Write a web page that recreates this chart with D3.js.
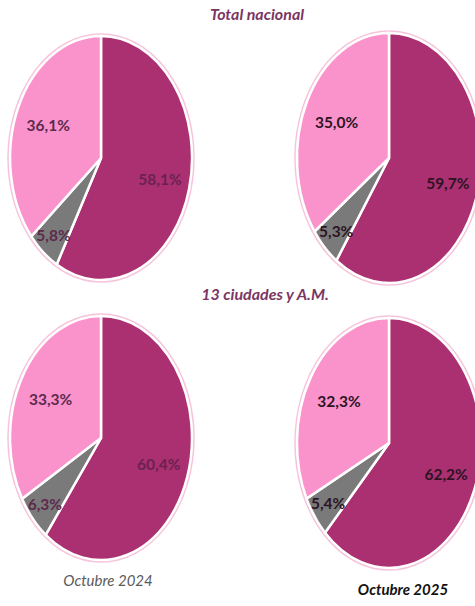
<!DOCTYPE html>
<html>
<head>
<meta charset="utf-8">
<script src="https://cdn.jsdelivr.net/npm/d3@7"></script>
<style>
  body { margin: 0; background: #fff; }
  text { font-family: Lato, "Open Sans", sans-serif; }
</style>
</head>
<body>
<svg id="chart"></svg>
<script>
// Pie pairs: Total nacional / 13 ciudades y A.M., Oct 2024 vs Oct 2025

const categories = ["Ocupados", "Desocupados", "Inactivos"];
const periods = ["Octubre 2024", "Octubre 2025"];
const groups = ["Total nacional", "13 ciudades y A.M."];

// values per group, per period, in the order of categories
const totalNacional2024 = [58.1, 5.8, 36.1];
const totalNacional2025 = [59.7, 5.3, 35.0];
const ciudades2024 = [60.4, 6.3, 33.3];
const ciudades2025 = [62.2, 5.4, 32.3];

const seriesValues = [
  [totalNacional2024, totalNacional2025],
  [ciudades2024, ciudades2025]
];

function drawChart(){
  let width = 475;
  let height = 606;
  let svg = d3.select('#chart')
    .attr("width", width)
    .attr("height", height);

  let colors = d3.scaleOrdinal()
    .domain(categories)
    .range(["#ab3071", "#7a7a7a", "#fa93cc"]);

  // how far out each label sits, as a share of the radius
  let labelRadius = d3.scaleOrdinal()
    .domain(categories)
    .range([0.67, 0.82, 0.64]);

  let colX = d3.scalePoint().domain(periods).range([101, 389]);
  let rowY = d3.scalePoint().domain(groups).range([158, 438]);
  let radiusX = [91, 92];
  let radiusY = [122, 125];

  let pie = d3.pie().sort(null).value(d => d.value);
  let arc = d3.arc().innerRadius(0).outerRadius(1);

  groups.forEach(function(group, gi){
    periods.forEach(function(period, pi){
      let data = categories.map((c, i) => ({cat: c, value: seriesValues[gi][pi][i]}));
      let arcs = pie(data);
      let rx = radiusX[pi];
      let ry = radiusY[pi];
      let cx = colX(period);
      let cy = rowY(group) + (gi == 1 && pi == 1 ? 5 : 0);

      let g = svg.append('g')
        .attr("transform", `translate(${cx},${cy})`);

      // soft halo around the pie
      g.append('ellipse')
        .attr("rx", rx + 1.5)
        .attr("ry", ry + 1.5)
        .attr("fill", "none")
        .attr("stroke", "#f5c4dc")
        .attr("stroke-width", 2.5);

      g.append('g')
        .attr("transform", `scale(${rx},${ry})`)
        .selectAll('path')
        .data(arcs)
        .join('path')
        .attr("d", arc)
        .attr("fill", d => colors(d.data.cat))
        .attr("stroke", "#fff")
        .attr("stroke-width", 2.5)
        .attr("vector-effect", "non-scaling-stroke");

      // labels: dim on the 2024 pies, dark on the 2025 ones
      g.selectAll('text')
        .data(arcs)
        .join('text')
        .attr("x", d => {
          let a = (d.startAngle + d.endAngle) / 2;
          return Math.sin(a) * rx * labelRadius(d.data.cat);
        })
        .attr("y", d => {
          let a = (d.startAngle + d.endAngle) / 2;
          return -Math.cos(a) * ry * labelRadius(d.data.cat);
        })
        .attr("text-anchor", "middle")
        .attr("dominant-baseline", "central")
        .attr("font-size", 15.5)
        .attr("font-weight", "bold")
        .attr("fill", d => {
          if (pi == 0) return d.data.cat == "Ocupados" ? "#6a2153" : "#5c2a4c";
          return "#2c1424";
        })
        .text(d => d3.format(".1f")(d.data.value).replace(".", ",") + "%");
    });
  });

  // group titles
  svg.selectAll('.groupTitle')
    .data(groups)
    .join('text')
    .attr("class", "groupTitle")
    .attr("x", (d, i) => [257, 265][i])
    .attr("y", d => rowY(d) - 145)
    .attr("text-anchor", "middle")
    .attr("dominant-baseline", "central")
    .attr("font-size", 16)
    .attr("font-weight", "bold")
    .attr("font-style", "italic")
    .attr("fill", "#7b3662")
    .text(d => d);

  // period labels at the bottom
  svg.selectAll('.periodLabel')
    .data(periods)
    .join('text')
    .attr("class", "periodLabel")
    .attr("x", (d, i) => colX(d) + [7, 14][i])
    .attr("y", (d, i) => [580, 589][i])
    .attr("text-anchor", "middle")
    .attr("dominant-baseline", "central")
    .attr("font-size", 15)
    .attr("font-style", "italic")
    .attr("font-weight", (d, i) => i == 0 ? "normal" : "bold")
    .attr("fill", (d, i) => i == 0 ? "#5a5a5a" : "#111")
    .text(d => d);
}

drawChart();
</script>
</body>
</html>
